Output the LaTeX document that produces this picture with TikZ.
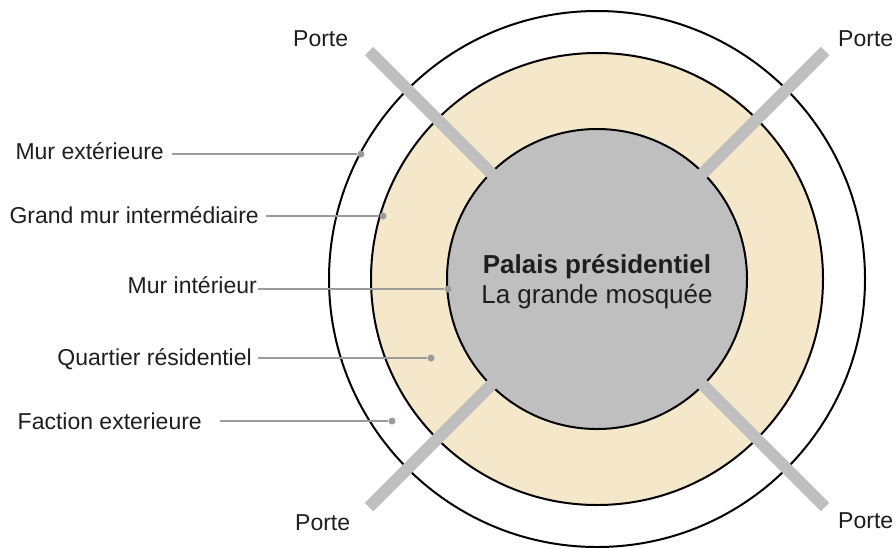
\documentclass[tikz,border=0pt]{standalone}
\usepackage{fontspec}
\setmainfont{Liberation Sans}
\usetikzlibrary{shapes,arrows}
\definecolor{sand}{RGB}{245,231,201}
\definecolor{stone}{RGB}{191,191,191}
\definecolor{leadgray}{RGB}{155,155,155}
\definecolor{ink}{RGB}{30,30,30}
\tikzstyle{wall} = [draw, circle, line width=2pt, inner sep=0pt]
\tikzstyle{gate} = [draw=stone, line width=12pt]
\tikzstyle{tag} = [text=ink, inner sep=0pt, font=\fontsize{23}{27}\selectfont]
\tikzstyle{dot} = [circle, fill=leadgray, inner sep=0pt, minimum size=7pt]
\tikzstyle{lead} = [draw=leadgray, line width=1.3pt]

\begin{document}
\begin{tikzpicture}[x=1pt, y=-1pt]
    \useasboundingbox (0,0) rectangle (896,547);
    % We start by placing the three walls
    \node [wall, fill=white, minimum size=536pt] (outer) at (597,279) {};
    \node [wall, fill=sand, minimum size=452pt] (middle) at (597,279) {};
    \node [wall, fill=stone, minimum size=300pt] (palace) at (597,279) {};

    % The gates run from the palace out through the walls
    \coordinate (gatetl) at (369,51);
    \coordinate (gatetr) at (825,51);
    \coordinate (gatebl) at (369,507);
    \coordinate (gatebr) at (825,507);
    \draw [gate] (palace.center) -- (gatetl);
    \draw [gate] (palace.center) -- (gatetr);
    \draw [gate] (palace.center) -- (gatebl);
    \draw [gate] (palace.center) -- (gatebr);
    \node [tag, anchor=base west] (portetl) at (293,46) {Porte};
    \node [tag, anchor=base west] (portetr) at (838,46) {Porte};
    \node [tag, anchor=base west] (portebl) at (295,530) {Porte};
    \node [tag, anchor=base west] (portebr) at (838,528) {Porte};

    % Names in the middle
    \node [tag, anchor=base, font=\bfseries\fontsize{26}{30}\selectfont]
        (palais) at (597,273) {Palais présidentiel};
    \node [tag, anchor=base, font=\fontsize{26}{30}\selectfont]
        (mosquee) at (597,303) {La grande mosquée};

    % Labels on the left, each with its lead line
    \node [tag, anchor=base east] (murext) at (164,159) {Mur extérieure};
    \node [tag, anchor=base east] (murgrand) at (259,223) {Grand mur intermédiaire};
    \node [tag, anchor=base east] (murint) at (257,293) {Mur intérieur};
    \node [tag, anchor=base east] (quartier) at (252,365) {Quartier résidentiel};
    \node [tag, anchor=base east] (faction) at (202,429) {Faction exterieure};
    \coordinate (lext) at (172,154);
    \coordinate (lgrand) at (266,216);
    \coordinate (lint) at (258,289);
    \coordinate (lquart) at (258,358);
    \coordinate (lfact) at (220,421);
    \node [dot] (dext) at (361,154) {};
    \node [dot] (dgrand) at (383,216) {};
    \node [dot] (dint) at (448,289) {};
    \node [dot] (dquart) at (431,358) {};
    \node [dot] (dfact) at (392,421) {};
    \draw [lead] (lext) -- (dext);
    \draw [lead] (lgrand) -- (dgrand);
    \draw [lead] (lint) -- (dint);
    \draw [lead] (lquart) -- (dquart);
    \draw [lead] (lfact) -- (dfact);
\end{tikzpicture}
\end{document}
